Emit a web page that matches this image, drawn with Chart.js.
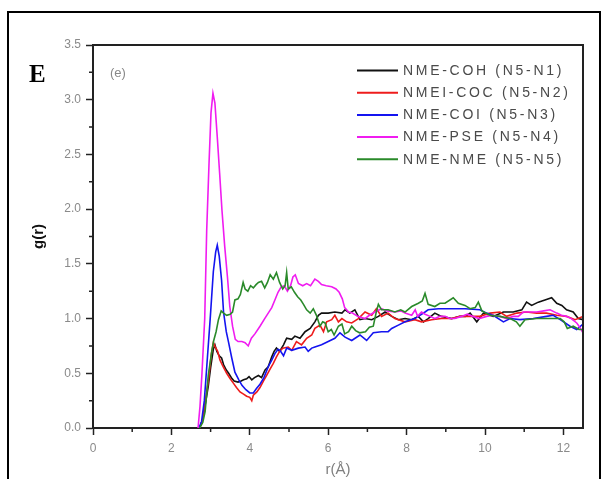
<!DOCTYPE html>
<html>
<head>
<meta charset="utf-8">
<script src="https://cdn.jsdelivr.net/npm/chart.js@4/dist/chart.umd.min.js"></script>
<style>
html,body{margin:0;padding:0;background:#fff;overflow:hidden;}
#wrap{position:relative;width:605px;height:479px;overflow:hidden;}
#frame{position:absolute;left:7px;top:11px;width:594px;height:540px;border:2px solid #000;box-sizing:border-box;}
#c{position:absolute;left:0;top:0;}
</style>
</head>
<body>
<div id="wrap">
<div id="frame"></div>
<canvas id="c" width="605" height="479"></canvas>
</div>
<script>
// ---- data ----
const seriesNames = ['NME-COH (N5-N1)','NMEI-COC (N5-N2)','NME-COI (N5-N3)','NME-PSE (N5-N4)','NME-NME (N5-N5)'];
const seriesColors = ['#111111','#ee1c1c','#1414f0','#f01cf0','#2a8a2a'];

const cohR = [2.72,2.80,2.88,2.94,3.00,3.07,3.11,3.16,3.22,3.28,3.33,3.40,3.46,3.53,3.60,3.70,3.78,3.84,3.92,3.98,4.05,4.12,4.22,4.30,4.39,4.47,4.56,4.62,4.68,4.76,4.86,4.94,5.07,5.15,5.28,5.41,5.54,5.66,5.75,5.83,6.00,6.17,6.35,6.43,6.55,6.68,6.81,6.94,7.11,7.28,7.45,7.62,7.79,7.96,8.13,8.30,8.43,8.55,8.72,8.89,9.15,9.36,9.50,9.62,9.79,9.96,10.21,10.47,10.72,10.94,11.06,11.19,11.36,11.53,11.70,11.83,11.96,12.08,12.25,12.38,12.50];
const cohG = [0,0.08,0.25,0.38,0.55,0.72,0.76,0.70,0.66,0.64,0.58,0.53,0.50,0.46,0.43,0.42,0.43,0.44,0.45,0.47,0.44,0.46,0.48,0.46,0.53,0.56,0.65,0.70,0.73,0.70,0.76,0.82,0.81,0.84,0.82,0.88,0.91,0.97,1.03,1.05,1.05,1.06,1.05,1.08,1.05,1.08,0.99,1.00,0.99,1.02,1.06,1.02,0.99,1.00,0.99,1.02,0.97,1.00,1.05,1.02,1.00,1.02,1.02,1.05,0.97,1.05,1.02,1.06,1.06,1.08,1.15,1.12,1.15,1.17,1.19,1.14,1.12,1.08,1.06,1.00,0.99];

const cocR = [2.72,2.80,2.88,2.95,3.02,3.07,3.12,3.18,3.24,3.32,3.41,3.50,3.58,3.66,3.75,3.84,3.92,4.00,4.05,4.09,4.18,4.26,4.35,4.43,4.52,4.60,4.68,4.76,4.84,4.98,5.07,5.19,5.32,5.45,5.58,5.66,5.79,5.88,5.96,6.09,6.17,6.26,6.35,6.47,6.60,6.77,6.94,7.11,7.23,7.36,7.53,7.70,7.96,8.21,8.38,8.64,8.89,9.15,9.36,9.62,9.87,10.13,10.38,10.55,10.81,11.06,11.32,11.57,11.83,12.08,12.30,12.50];
const cocG = [0,0.08,0.28,0.45,0.68,0.78,0.74,0.70,0.62,0.56,0.50,0.45,0.41,0.37,0.33,0.31,0.29,0.28,0.25,0.30,0.33,0.37,0.43,0.48,0.54,0.59,0.65,0.70,0.73,0.74,0.71,0.79,0.76,0.82,0.85,0.91,0.94,0.88,0.97,0.99,1.03,0.97,1.00,0.97,0.96,1.00,1.06,1.03,1.09,1.02,1.05,1.00,0.97,0.99,0.97,0.99,1.00,1.00,1.02,1.02,1.02,1.05,1.06,1.02,1.05,1.06,1.05,1.05,1.03,1.02,0.99,1.02];

const coiR = [2.70,2.77,2.84,2.90,2.99,3.07,3.13,3.17,3.22,3.28,3.33,3.40,3.46,3.54,3.62,3.72,3.80,3.90,4.00,4.09,4.17,4.26,4.36,4.47,4.56,4.64,4.72,4.77,4.86,4.94,5.07,5.24,5.41,5.49,5.58,5.66,5.83,6.00,6.17,6.30,6.43,6.60,6.81,6.98,7.15,7.36,7.53,7.62,7.79,7.96,8.21,8.47,8.55,8.81,9.15,9.49,9.87,10.04,10.21,10.47,10.64,10.89,11.23,11.57,11.74,11.92,12.17,12.34,12.50];
const coiG = [0,0.06,0.25,0.55,1.00,1.43,1.61,1.67,1.57,1.35,1.06,0.88,0.78,0.64,0.51,0.44,0.39,0.35,0.32,0.32,0.36,0.40,0.46,0.56,0.62,0.68,0.72,0.71,0.66,0.73,0.71,0.73,0.74,0.70,0.73,0.74,0.76,0.79,0.82,0.87,0.83,0.80,0.85,0.80,0.87,0.88,0.88,0.91,0.94,0.97,1.00,1.06,1.08,1.09,1.09,1.09,1.08,1.05,1.03,0.97,1.00,0.99,1.00,1.02,1.03,0.99,0.93,0.90,0.95];

const pseR = [2.68,2.73,2.78,2.85,2.90,2.96,3.01,3.06,3.11,3.17,3.23,3.29,3.36,3.43,3.49,3.56,3.63,3.70,3.80,3.88,3.96,4.04,4.13,4.26,4.38,4.47,4.56,4.64,4.72,4.80,4.88,4.96,5.04,5.10,5.16,5.24,5.35,5.45,5.55,5.66,5.75,5.83,5.95,6.09,6.20,6.28,6.36,6.42,6.52,6.62,6.75,6.94,7.05,7.19,7.36,7.50,7.70,7.85,7.96,8.13,8.22,8.28,8.38,8.47,8.60,8.72,8.85,8.98,9.10,9.23,9.40,9.55,9.70,9.85,10.04,10.20,10.38,10.55,10.72,10.85,10.98,11.15,11.32,11.50,11.66,11.83,11.95,12.08,12.20,12.34,12.42,12.50];
const pseG = [0,0.20,0.50,1.00,1.80,2.42,2.88,3.06,2.97,2.66,2.33,1.99,1.66,1.38,1.11,0.93,0.81,0.79,0.79,0.78,0.75,0.82,0.86,0.93,1.00,1.05,1.10,1.17,1.24,1.29,1.30,1.25,1.30,1.38,1.40,1.32,1.30,1.32,1.30,1.36,1.34,1.31,1.30,1.29,1.27,1.24,1.18,1.10,1.06,1.05,1.02,1.00,1.03,1.06,1.09,1.07,1.06,1.07,1.05,1.03,1.08,1.02,1.06,1.04,1.02,1.00,1.02,1.02,1.00,1.00,1.02,1.04,1.02,1.00,1.02,1.03,1.02,1.00,1.02,1.02,1.06,1.06,1.06,1.07,1.08,1.05,1.03,1.02,1.00,0.96,0.92,0.87];

const nmeR = [2.72,2.80,2.86,2.94,3.03,3.08,3.14,3.20,3.27,3.33,3.41,3.50,3.56,3.62,3.70,3.76,3.83,3.88,3.95,4.02,4.09,4.16,4.22,4.30,4.38,4.45,4.52,4.60,4.68,4.76,4.84,4.90,4.94,4.98,5.06,5.14,5.22,5.30,5.37,5.45,5.54,5.62,5.70,5.79,5.86,5.92,6.00,6.08,6.15,6.26,6.35,6.42,6.52,6.60,6.70,6.80,6.95,7.05,7.15,7.22,7.28,7.36,7.53,7.70,7.85,7.96,8.13,8.30,8.40,8.47,8.55,8.72,8.85,8.98,9.19,9.32,9.49,9.62,9.75,9.83,9.92,10.13,10.38,10.64,10.80,10.89,11.02,11.32,11.66,11.92,12.02,12.10,12.25,12.40,12.50];
const nmeG = [0,0.05,0.15,0.48,0.70,0.80,0.88,0.99,1.07,1.05,1.03,1.04,1.06,1.17,1.18,1.22,1.33,1.27,1.25,1.30,1.28,1.31,1.33,1.34,1.28,1.33,1.40,1.36,1.42,1.33,1.27,1.30,1.42,1.27,1.29,1.24,1.20,1.17,1.13,1.08,1.05,1.09,1.03,0.93,0.97,0.96,0.88,0.90,0.85,0.93,0.95,0.86,0.88,0.93,0.89,0.87,0.88,0.92,0.93,1.05,1.13,1.08,1.08,1.06,1.08,1.06,1.11,1.14,1.16,1.23,1.13,1.11,1.14,1.14,1.19,1.14,1.12,1.09,1.10,1.15,1.07,1.03,1.02,1.00,0.97,0.93,0.99,1.00,1.00,1.00,0.97,0.91,0.93,0.90,0.90];

const xTicks = [0,2,4,6,8,10,12];
const xMinorTicks = [1,3,5,7,9,11];
const yTicks = [0,0.5,1.0,1.5,2.0,2.5,3.0,3.5];
const yMinorTicks = [0.25,0.75,1.25,1.75,2.25,2.75,3.25];

const seriesR = [cohR,cocR,coiR,pseR,nmeR];
const seriesG = [cohG,cocG,coiG,pseG,nmeG];

const datasets = seriesNames.map((name,i)=>({
  label: name,
  data: seriesR[i].map((r,k)=>({x:r,y:seriesG[i][k]})),
  borderColor: seriesColors[i],
  backgroundColor: seriesColors[i],
  borderWidth: 1.6,
  pointRadius: 0,
  tension: 0,
  fill: false,
  order: seriesNames.length - i
}));

const decor = {
  id: 'decor',
  afterDraw(chart){
    const ctx = chart.ctx, a = chart.chartArea;
    const xs = chart.scales.x, ys = chart.scales.y;
    ctx.save();
    // box top & right
    ctx.strokeStyle = '#222'; ctx.lineWidth = 2;
    ctx.beginPath();
    ctx.moveTo(a.left, a.top); ctx.lineTo(a.right, a.top); ctx.lineTo(a.right, a.bottom);
    ctx.stroke();
    // minor ticks
    ctx.lineWidth = 1.5;
    ctx.beginPath();
    xMinorTicks.forEach(v=>{const p=xs.getPixelForValue(v); ctx.moveTo(p,a.bottom); ctx.lineTo(p,a.bottom+4);});
    yMinorTicks.forEach(v=>{const p=ys.getPixelForValue(v); ctx.moveTo(a.left,p); ctx.lineTo(a.left-4,p);});
    ctx.stroke();
    // panel letter
    ctx.fillStyle = '#000';
    ctx.font = 'bold 25px "Liberation Serif"';
    ctx.textBaseline = 'alphabetic'; ctx.textAlign = 'left';
    ctx.fillText('E', 29, 82);
    ctx.fillStyle = '#888';
    ctx.font = '13px "Liberation Sans"';
    ctx.textBaseline = 'middle';
    ctx.fillText('(e)', 110, 73);
    // legend
    ctx.font = '14px "Liberation Sans"';
    try { ctx.letterSpacing = '2.7px'; } catch(e) {}
    chart.data.datasets.forEach((ds,i)=>{
      const y = 70.5 + i*22.2;
      ctx.strokeStyle = ds.borderColor; ctx.lineWidth = 2;
      ctx.beginPath(); ctx.moveTo(357,y); ctx.lineTo(398,y); ctx.stroke();
      ctx.fillStyle = '#4a4a4a';
      ctx.fillText(ds.label, 403, y+0.5);
    });
    ctx.restore();
  }
};

new Chart(document.getElementById('c'), {
  type: 'line',
  data: { datasets },
  plugins: [decor],
  options: {
    responsive: false,
    animation: false,
    devicePixelRatio: 1,
    layout: { padding: { left: 0, right: 22, top: 45, bottom: 0 } },
    plugins: { legend: { display: false }, tooltip: { enabled: false } },
    scales: {
      x: {
        type: 'linear', min: 0, max: 12.5,
        afterFit(s){ s.height = 51; },
        afterBuildTicks(s){ s.ticks = xTicks.map(v=>({value:v})); },
        ticks: { color: '#8a8a8a', font: { size: 12, family: 'Liberation Sans' }, padding: 6, maxRotation: 0, autoSkip: false,
                 callback: v => String(v) },
        grid: { display: true, drawOnChartArea: false, drawTicks: true, tickLength: 7, tickWidth: 1.5, tickColor: '#222' },
        border: { display: true, color: '#222', width: 2 },
        title: { display: true, text: 'r(Å)', color: '#808080', font: { size: 15, family: 'Liberation Sans' }, padding: { top: 0, bottom: 0 } }
      },
      y: {
        type: 'linear', min: 0, max: 3.5,
        afterFit(s){ s.width = 93; },
        afterBuildTicks(s){ s.ticks = yTicks.map(v=>({value:v})); },
        ticks: { color: '#8a8a8a', font: { size: 12, family: 'Liberation Sans' }, padding: 5, autoSkip: false,
                 callback: v => Number(v).toFixed(1) },
        grid: { display: true, drawOnChartArea: false, drawTicks: true, tickLength: 7, tickWidth: 1.5, tickColor: '#222' },
        border: { display: true, color: '#222', width: 2 },
        title: { display: true, text: 'g(r)', color: '#111', font: { size: 15, weight: 'bold', family: 'Liberation Sans' }, padding: { top: 30, bottom: 0 } }
      }
    }
  }
});
</script>
</body>
</html>
